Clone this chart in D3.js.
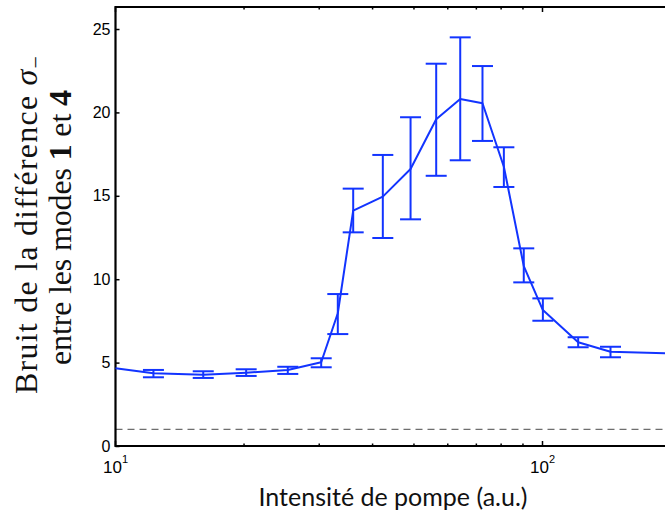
<!DOCTYPE html>
<html><head><meta charset="utf-8">
<script src="https://cdn.jsdelivr.net/npm/d3@7"></script>
<style>body{margin:0;background:#fff}svg{display:block}</style>
</head><body><svg id="c" width="665" height="516"></svg>
<script>
// Data
const intensity = [10, 12.27, 16.05, 20.23, 25.32, 30.32, 33.16, 36.03, 42.27, 49.09, 56.37, 64.17, 72.35, 81.19, 90.39, 100.2, 121.2, 144.3, 200];
const noise     = [4.66, 4.36, 4.27, 4.39, 4.56, 5.02, 7.96, 14.11, 14.95, 16.61, 19.59, 20.80, 20.55, 16.74, 10.79, 8.15, 6.22, 5.65, 5.55];
const errLow    = [null, 4.12, 4.08, 4.20, 4.32, 4.72, 6.71, 12.81, 12.47, 13.59, 16.20, 17.13, 18.29, 15.53, 9.81, 7.51, 5.92, 5.32, null];
const errHigh   = [null, 4.56, 4.48, 4.60, 4.75, 5.26, 9.11, 15.43, 17.45, 19.71, 22.92, 24.50, 22.78, 17.91, 11.85, 8.85, 6.52, 5.95, null];
const shotNoise = 1;
const yTicks = [0, 5, 10, 15, 20, 25];
const xMajorTicks = [10, 100];
const xMinorTicks = [20, 30, 40, 50, 60, 70, 80, 90];
const xTickExp = ["1", "2"];

const svg = d3.select("#c");
const L = 115.5, T = 7, B = 446, DEC = 427;
const x = d3.scaleLog().domain([10, 200]).range([L, L + DEC * Math.log10(20)]);
const y = d3.scaleLinear().domain([0, 26.32]).range([B, T]);
const blue = "#1234ff";

// dashed reference line
svg.append("line").attr("x1", L).attr("x2", 665).attr("y1", y(shotNoise)).attr("y2", y(shotNoise))
  .attr("stroke", "#6e6e6e").attr("stroke-width", 1.2).attr("stroke-dasharray", "7,5");

// y axis (left)
const yAxis = d3.axisLeft(y).tickValues(yTicks).tickSize(-4).tickPadding(5).tickFormat(d3.format("d"));
const gy = svg.append("g").attr("transform", `translate(${L},0)`).call(yAxis);
gy.select(".domain").remove();
gy.selectAll(".tick line").attr("stroke", "#000").attr("stroke-width", 1.5);
gy.selectAll(".tick text").attr("font-family", "Liberation Sans, Arial, sans-serif").attr("font-size", 16).attr("fill", "#000");

// x minor/major ticks bottom and top
const gx = svg.append("g");
gx.selectAll(".mnb").data(xMinorTicks).join("line")
  .attr("x1", d => x(d)).attr("x2", d => x(d)).attr("y1", B).attr("y2", B - 2.5)
  .attr("stroke", "#000").attr("stroke-width", 1.5);
gx.selectAll(".mnt").data(xMinorTicks).join("line")
  .attr("x1", d => x(d)).attr("x2", d => x(d)).attr("y1", T).attr("y2", T + 2.5)
  .attr("stroke", "#000").attr("stroke-width", 1.5);
gx.selectAll(".mjb").data(xMajorTicks).join("line")
  .attr("x1", d => x(d)).attr("x2", d => x(d)).attr("y1", B).attr("y2", B - 5)
  .attr("stroke", "#000").attr("stroke-width", 1.5);
gx.selectAll(".mjt").data(xMajorTicks).join("line")
  .attr("x1", d => x(d)).attr("x2", d => x(d)).attr("y1", T).attr("y2", T + 5)
  .attr("stroke", "#000").attr("stroke-width", 1.5);

// x tick labels 10^n
const xl = gx.selectAll(".xl").data(xMajorTicks).join("text")
  .attr("x", d => x(d)).attr("y", 473)
  .attr("text-anchor", "middle")
  .attr("font-family", "Liberation Sans, Arial, sans-serif").attr("font-size", 17).attr("fill", "#000");
xl.append("tspan").text("10");
xl.append("tspan").attr("dy", -10).attr("font-size", 11).text((d, i) => xTickExp[i]);

// frame
svg.append("path").attr("d", `M665,${T}H${L}V${B}H665`).attr("fill", "none")
  .attr("stroke", "#000").attr("stroke-width", 2.2);

// data line
const idx = d3.range(intensity.length);
svg.append("path").datum(idx)
  .attr("d", d3.line().x(i => x(intensity[i])).y(i => y(noise[i])))
  .attr("fill", "none").attr("stroke", blue).attr("stroke-width", 2).attr("stroke-linejoin", "round");

// error bars
const eb = idx.filter(i => errLow[i] !== null);
const cap = 10.5;
const ge = svg.append("g").attr("stroke", blue).attr("stroke-width", 2);
ge.selectAll(".v").data(eb).join("line")
  .attr("x1", i => x(intensity[i])).attr("x2", i => x(intensity[i]))
  .attr("y1", i => y(errLow[i])).attr("y2", i => y(errHigh[i]));
ge.selectAll(".ct").data(eb).join("line")
  .attr("x1", i => x(intensity[i]) - cap).attr("x2", i => x(intensity[i]) + cap)
  .attr("y1", i => y(errHigh[i])).attr("y2", i => y(errHigh[i]));
ge.selectAll(".cb").data(eb).join("line")
  .attr("x1", i => x(intensity[i]) - cap).attr("x2", i => x(intensity[i]) + cap)
  .attr("y1", i => y(errLow[i])).attr("y2", i => y(errLow[i]));

// x label
svg.append("text").attr("x", 393).attr("y", 506).attr("text-anchor", "middle")
  .attr("font-family", "Lato, Open Sans, sans-serif").attr("font-size", 25).attr("fill", "#111")
  .text("Intensité de pompe (a.u.)");

// y label (two lines)
const serif = "Liberation Serif, Times New Roman, serif";
const yl1 = svg.append("text").attr("transform", "translate(37,225) rotate(-90)")
  .attr("text-anchor", "middle").attr("font-family", serif).attr("font-size", 32).attr("fill", "#111")
  .attr("textLength", 338).attr("lengthAdjust", "spacing");
yl1.append("tspan").text("Bruit de la différence ");
yl1.append("tspan").attr("font-style", "italic").text("σ");
yl1.append("tspan").attr("dy", 6).attr("font-size", 22).text("−");

const yl2 = svg.append("text").attr("transform", "translate(71,227.5) rotate(-90)")
  .attr("text-anchor", "middle").attr("font-family", serif).attr("font-size", 32).attr("fill", "#111")
  .attr("textLength", 275).attr("lengthAdjust", "spacing");
yl2.append("tspan").text("entre les modes ");
yl2.append("tspan").attr("font-weight", "bold").text("1");
yl2.append("tspan").text(" et ");
yl2.append("tspan").attr("font-weight", "bold").text("4");
</script></body></html>
